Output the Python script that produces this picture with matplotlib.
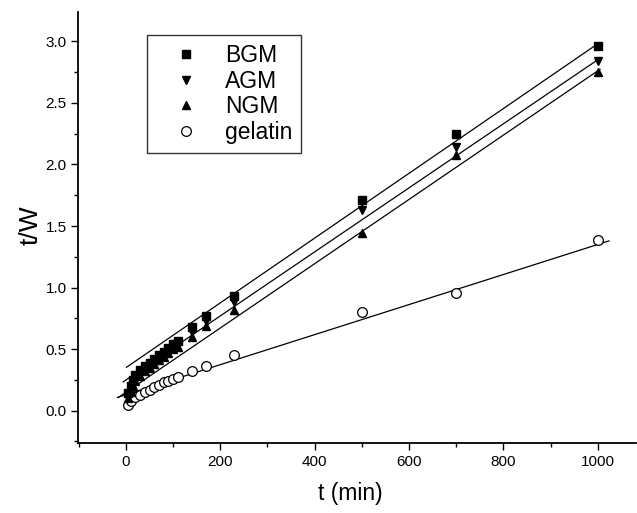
import numpy as np
import matplotlib
matplotlib.use("Agg")
import matplotlib.pyplot as plt
from matplotlib.ticker import MultipleLocator

plt.rcParams['font.family'] = ['Liberation Sans', 'DejaVu Sans']

# -------------------------------
# Data
# -------------------------------
t_min = [5, 10, 15, 20, 30, 40, 50, 60, 70, 80, 90, 100, 110, 140, 170, 230, 500, 700, 1000]
bgm = [0.14, 0.20, 0.25, 0.29, 0.33, 0.36, 0.39, 0.42, 0.45, 0.48, 0.51, 0.54, 0.57, 0.68, 0.77, 0.93, 1.71, 2.25, 2.96]
agm = [0.12, 0.18, 0.22, 0.26, 0.31, 0.34, 0.37, 0.40, 0.43, 0.46, 0.49, 0.52, 0.55, 0.64, 0.73, 0.88, 1.63, 2.14, 2.84]
ngm = [0.10, 0.15, 0.20, 0.24, 0.28, 0.32, 0.35, 0.38, 0.41, 0.44, 0.47, 0.50, 0.52, 0.60, 0.69, 0.82, 1.44, 2.08, 2.75]

t_gel = [5, 10, 20, 30, 40, 50, 60, 70, 80, 90, 100, 110, 140, 170, 230, 500, 700, 1000]
gelatin = [0.05, 0.08, 0.11, 0.13, 0.15, 0.17, 0.19, 0.21, 0.23, 0.245, 0.26, 0.27, 0.32, 0.36, 0.45, 0.80, 0.96, 1.39]

# linear fits as drawn in the figure (slope, intercept)
fit_slope = [0.00263, 0.00260, 0.00261, 0.00122]
fit_intercept = [0.35, 0.25, 0.15, 0.13]
fit_start = [1, -6, -16, -18]
fit_end = [1000, 1000, 1005, 1024]

# -------------------------------
# Plot
# -------------------------------
fig = plt.figure(figsize=(6.37, 5.13), dpi=100)
ax = fig.add_axes([0.123, 0.137, 0.876, 0.840])

for s, b, t0, t1 in zip(fit_slope, fit_intercept, fit_start, fit_end):
    tt = np.array([t0, t1])
    ax.plot(tt, s * tt + b, color='black', lw=0.9, zorder=1)

ax.plot(t_min, bgm, 's', color='black', ms=5.5, label='BGM', zorder=3)
ax.plot(t_min, agm, 'v', color='black', ms=6, label='AGM', zorder=3)
ax.plot(t_min, ngm, '^', color='black', ms=6, label='NGM', zorder=3)
ax.plot(t_gel, gelatin, 'o', mfc='white', mec='black', mew=0.9, ms=7, label='gelatin', zorder=2)

ax.set_xlim(-101, 1082)
ax.set_ylim(-0.26, 3.24)
ax.xaxis.set_major_locator(MultipleLocator(200))
ax.xaxis.set_minor_locator(MultipleLocator(100))
ax.yaxis.set_major_locator(MultipleLocator(0.5))
ax.yaxis.set_minor_locator(MultipleLocator(0.25))
ax.yaxis.set_major_formatter(plt.FormatStrFormatter('%.1f'))

for side in ['top', 'right']:
    ax.spines[side].set_visible(False)
for side in ['left', 'bottom']:
    ax.spines[side].set_linewidth(1.3)

ax.tick_params(which='major', direction='out', length=5, width=1, labelsize=11)
ax.tick_params(which='minor', direction='out', length=3, width=1)

ax.set_xlabel('t (min)', fontsize=16.5, va='center')
ax.set_ylabel('t/W', fontsize=19, va='center')
ax.xaxis.set_label_coords(0.487, -0.119)
ax.yaxis.set_label_coords(-0.085, 0.505)

leg = ax.legend(loc='upper left', bbox_to_anchor=(0.123, 0.947), borderaxespad=0,
                fontsize=16.5, frameon=True, fancybox=False, edgecolor='black',
                handletextpad=0.4, labelspacing=0.12, borderpad=0.4,
                handlelength=2.6, markerscale=1.0)
leg.get_frame().set_linewidth(1.0)

fig.savefig('out.png', dpi=100)
